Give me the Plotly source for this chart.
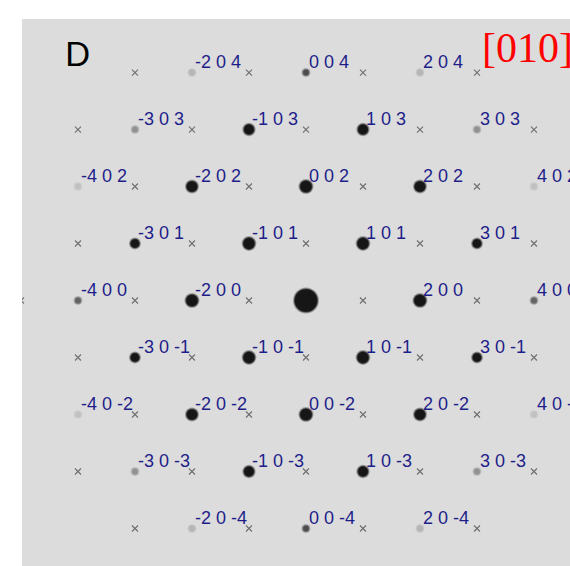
import plotly.graph_objects as go

# Reflections h 0 l (allowed) with relative intensity
spot_h = [-2, 0, 2,
          -3, -1, 1, 3,
          -4, -2, 0, 2, 4,
          -3, -1, 1, 3,
          -4, -2, 0, 2, 4,
          -3, -1, 1, 3,
          -4, -2, 0, 2, 4,
          -3, -1, 1, 3,
          -2, 0, 2]
spot_l = [4, 4, 4,
          3, 3, 3, 3,
          2, 2, 2, 2, 2,
          1, 1, 1, 1,
          0, 0, 0, 0, 0,
          -1, -1, -1, -1,
          -2, -2, -2, -2, -2,
          -3, -3, -3, -3,
          -4, -4, -4]
spot_I = [1.5, 6, 1.5,
          3, 26, 26, 3,
          1, 30, 36, 30, 1,
          18, 34, 34, 18,
          5, 36, 100, 36, 5,
          18, 34, 34, 18,
          1, 30, 36, 30, 1,
          3, 26, 26, 3,
          1.5, 6, 1.5]

# Forbidden (systematically absent) positions marked with crosses
cross_h = [0,
           -3, -1, 1, 3,
           -4, -2, 0, 2, 4,
           -3, -1, 1, 3,
           -4, -2, 0, 2, 4,
           -5, -3, -1, 1, 3,
           -4, -2, 0, 2, 4,
           -3, -1, 1, 3,
           -4, -2, 0, 2, 4,
           -3, -1, 1, 3]
cross_l = [5,
           4, 4, 4, 4,
           3, 3, 3, 3, 3,
           2, 2, 2, 2,
           1, 1, 1, 1, 1,
           0, 0, 0, 0, 0,
           -1, -1, -1, -1, -1,
           -2, -2, -2, -2,
           -3, -3, -3, -3, -3,
           -4, -4, -4, -4]

zone_axis = "[010]"
panel_label = "D"


def spot_size(I):
    if I >= 15:
        return 5.5 + 0.17 * I
    return 5.5


def spot_color(I):
    if I >= 15:
        return "#000000"
    g = int(max(60, min(205, 215 - I * 26)))
    return f"rgb({g},{g},{g})"


sizes = [spot_size(i) for i in spot_I]
colors = [spot_color(i) for i in spot_I]

fig = go.Figure()

# soft halo to mimic blurred spots
fig.add_trace(go.Scatter(
    x=spot_h, y=spot_l, mode="markers",
    marker=dict(size=[s + 3.5 for s in sizes], color=colors, opacity=0.3,
                line=dict(width=0)),
    hoverinfo="skip", showlegend=False))
fig.add_trace(go.Scatter(
    x=spot_h, y=spot_l, mode="markers",
    marker=dict(size=[s + 1.5 for s in sizes], color=colors, opacity=0.5,
                line=dict(width=0)),
    hoverinfo="skip", showlegend=False))
fig.add_trace(go.Scatter(
    x=spot_h, y=spot_l, mode="markers",
    marker=dict(size=sizes, color=colors, line=dict(width=0)),
    showlegend=False))

fig.add_trace(go.Scatter(
    x=cross_h, y=cross_l, mode="markers",
    marker=dict(symbol="x-thin", size=6, line=dict(width=1.1, color="#6e6e6e")),
    showlegend=False))

annotations = []
for h, l in zip(spot_h, spot_l):
    if h == 0 and l == 0:
        continue
    annotations.append(dict(
        x=h, y=l, xref="x", yref="y", text=f"{h} 0 {l}", showarrow=False,
        xanchor="left", yanchor="middle", xshift=1, yshift=11,
        font=dict(family="Liberation Sans, Arial", size=18, color="#1e1e8a")))

annotations.append(dict(
    x=0.841, y=0.947, xref="paper", yref="paper", text=zone_axis,
    showarrow=False, xanchor="left", yanchor="middle", xshift=-3,
    font=dict(family="Liberation Serif, serif", size=42, color="#ff0000")))
annotations.append(dict(
    x=0.1015, y=0.9375, xref="paper", yref="paper", text=panel_label,
    showarrow=False, xanchor="center", yanchor="middle",
    font=dict(family="Lato, sans-serif", size=33, color="#000000")))

fig.update_layout(
    width=570, height=566,
    margin=dict(l=22, r=0, t=19, b=0),
    paper_bgcolor="#ffffff", plot_bgcolor="#dcdcdc",
    xaxis=dict(range=[-4.982, 4.632], visible=False, showgrid=False, zeroline=False),
    yaxis=dict(range=[-4.658, 4.939], visible=False, showgrid=False, zeroline=False),
    annotations=annotations,
)

fig.write_html(
    "out.html",
    config={"displayModeBar": False},
    post_script="document.body.style.margin='0';document.body.style.overflow='hidden';",
)
